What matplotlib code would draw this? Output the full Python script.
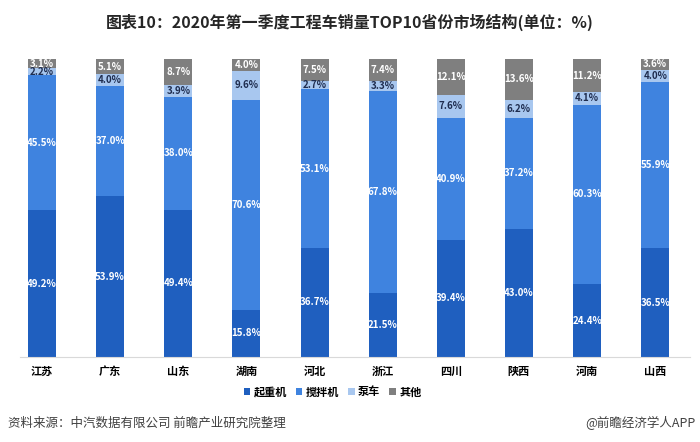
import matplotlib
matplotlib.use('Agg')
import matplotlib.pyplot as plt
import numpy as np

plt.rcParams['font.family'] = ['Noto Sans CJK SC', 'DejaVu Sans']

provinces = ['江苏', '广东', '山东', '湖南', '河北', '浙江', '四川', '陕西', '河南', '山西']
crane = [49.2, 53.9, 49.4, 15.8, 36.7, 21.5, 39.4, 43.0, 24.4, 36.5]
mixer = [45.5, 37.0, 38.0, 70.6, 53.1, 67.8, 40.9, 37.2, 60.3, 55.9]
pump = [2.2, 4.0, 3.9, 9.6, 2.7, 3.3, 7.6, 6.2, 4.1, 4.0]
other = [3.1, 5.1, 8.7, 4.0, 7.5, 7.4, 12.1, 13.6, 11.2, 3.6]
series_names = ['起重机', '搅拌机', '泵车', '其他']
colors = ['#1f5fbf', '#3f83df', '#a8c7ef', '#7f7f7f']
label_colors = ['white', 'white', '#1f2d4f', 'white']

fig = plt.figure(figsize=(7, 4.42), dpi=100)
ax = fig.add_axes([20 / 700, 1 - 357 / 442, 670 / 700, 298 / 442])

x = np.arange(len(provinces))
bottom = np.zeros(len(provinces))
handles = []
for vals, name, c, lc in zip([crane, mixer, pump, other], series_names, colors, label_colors):
    vals = np.array(vals)
    b = ax.bar(x, vals, 0.41, bottom=bottom, color=c, label=name, zorder=2)
    handles.append(b)
    for xi, v, bt in zip(x, vals, bottom):
        ax.text(xi, bt + v / 2, f'{v:.1f}%', ha='center', va='center',
                fontsize=7, fontweight='bold', color=lc, zorder=3)
    bottom += vals

ax.set_xlim(-0.323, 9.51)
ax.set_ylim(0, 100)
ax.set_yticks([])
ax.set_xticks(x)
ax.set_xticklabels(provinces, fontsize=8, fontweight='bold')
ax.tick_params(axis='x', length=0, pad=6)
for s in ['top', 'right', 'left']:
    ax.spines[s].set_visible(False)
ax.spines['bottom'].set_color('#d9d9d9')

fig.legend(handles=handles, labels=series_names, loc='center', bbox_to_anchor=(0.475, 1 - 392 / 442),
           ncol=4, frameon=False, fontsize=8, prop={'weight': 'bold', 'size': 8},
           handlelength=0.6, handleheight=0.6, handletextpad=0.3, columnspacing=0.8)

fig.text(0.5, 1 - 22 / 442, '图表10：2020年第一季度工程车销量TOP10省份市场结构(单位：%)',
         ha='center', va='center', fontsize=11.5, fontweight='bold', color='#262626')
fig.text(8 / 700, 1 - 423 / 442, '资料来源：中汽数据有限公司 前瞻产业研究院整理',
         ha='left', va='center', fontsize=9, color='#404040')
fig.text(696 / 700, 1 - 423 / 442, '@前瞻经济学人APP',
         ha='right', va='center', fontsize=9, color='#404040')

fig.savefig('out.png', dpi=100)
